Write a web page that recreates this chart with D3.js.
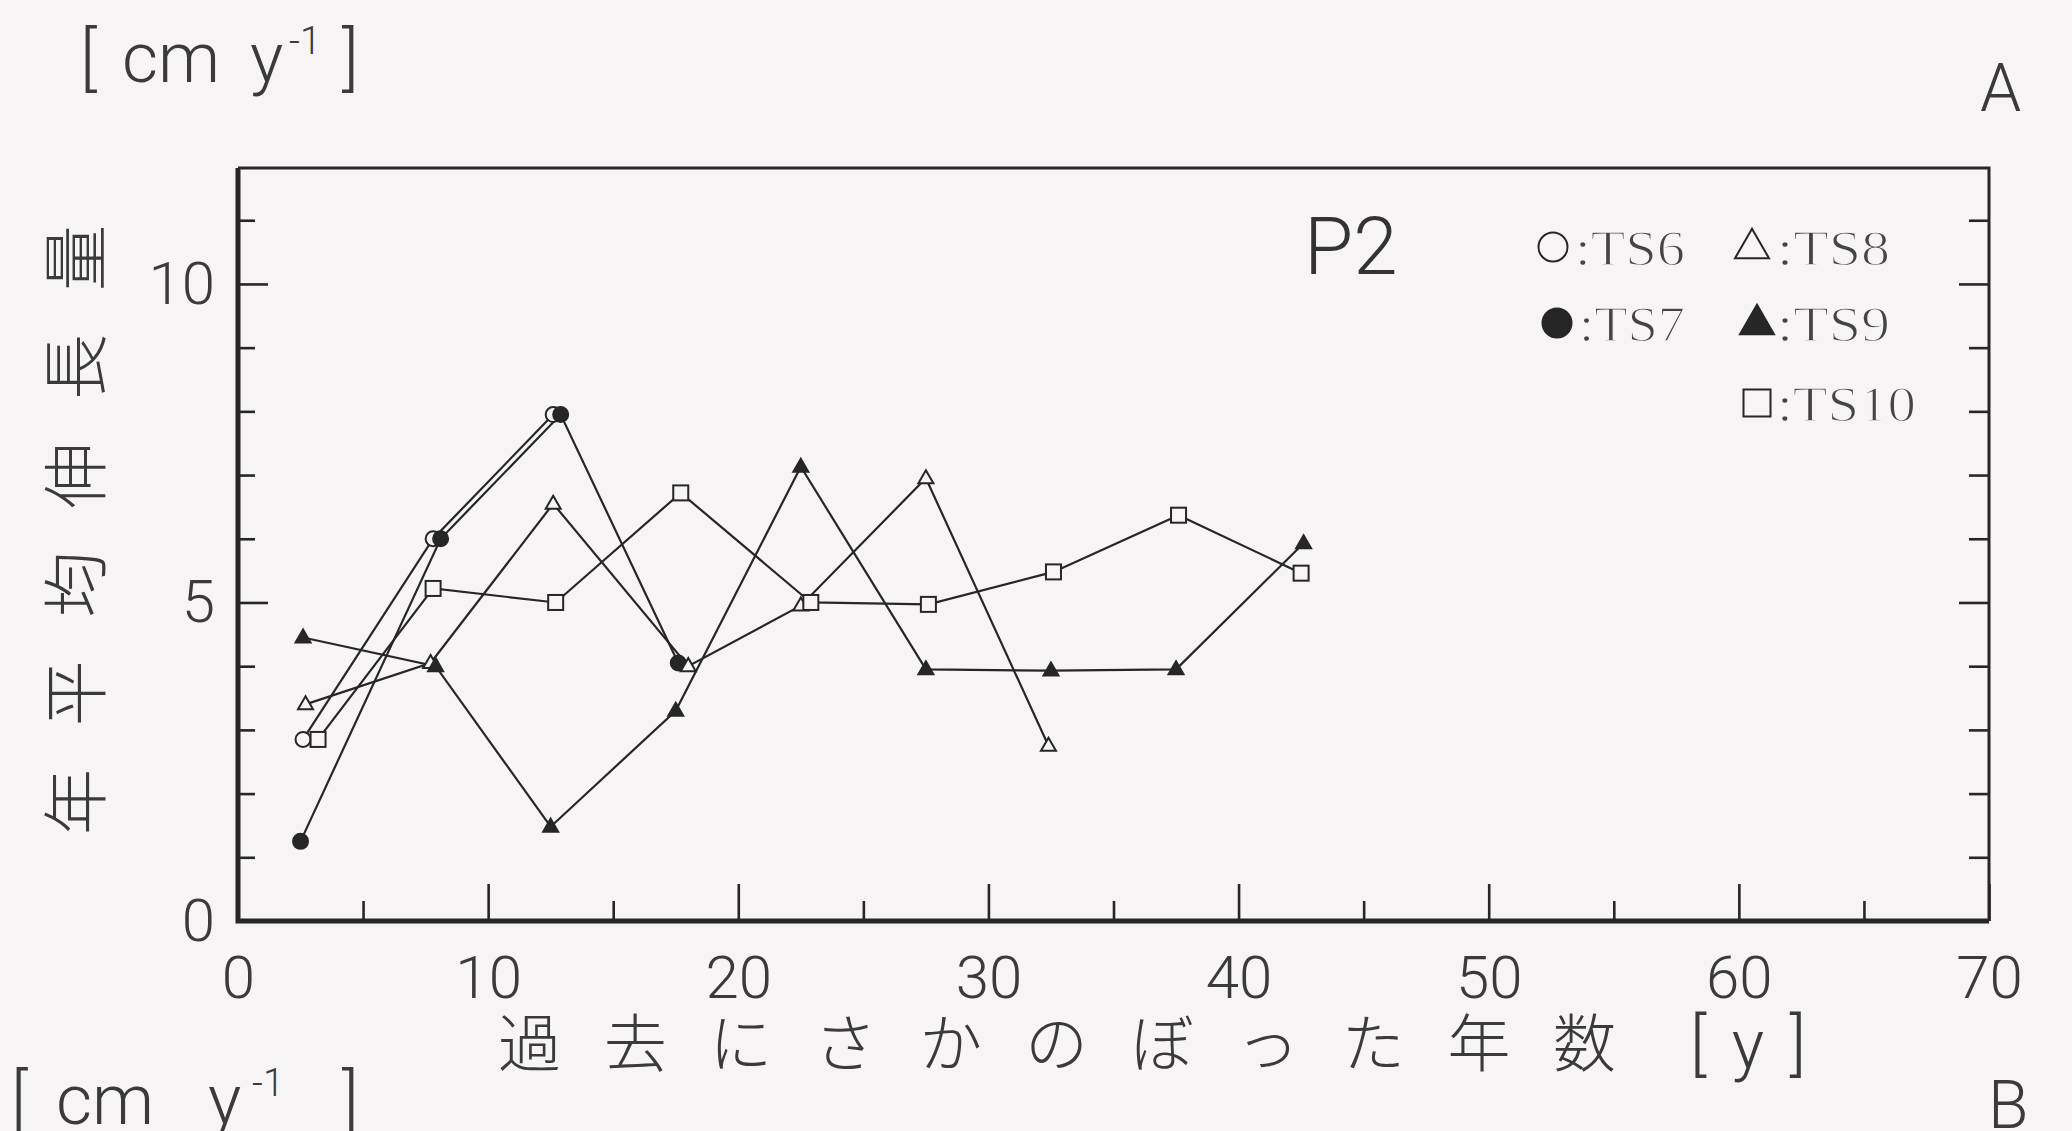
<!DOCTYPE html>
<html>
<head>
<meta charset="utf-8">
<script src="https://cdn.jsdelivr.net/npm/d3@7"></script>
<style>
  html, body { margin: 0; padding: 0; background: #f6f4f5; }
  svg { display: block; }
  .tick text { fill: #3a3a3a; }
</style>
</head>
<body>
<svg id="chart" width="2072" height="1131"></svg>
<script>
// Annual mean elongation per tree, by years counted back (panel P2)
const seriesNames = ["TS6", "TS7", "TS8", "TS9", "TS10"];
const ts6X  = [2.6, 7.8, 12.6];
const ts6Y  = [2.85, 6.0, 7.95];
const ts7X  = [2.5, 8.1, 12.9, 17.6];
const ts7Y  = [1.25, 6.0, 7.95, 4.05];
const ts8X  = [2.7, 7.7, 12.6, 18.0, 22.5, 27.5, 32.4];
const ts8Y  = [3.4, 4.05, 6.55, 4.0, 4.95, 6.95, 2.75];
const ts9X  = [2.6, 7.9, 12.5, 17.5, 22.5, 27.5, 32.5, 37.5, 42.6];
const ts9Y  = [4.45, 4.0, 1.48, 3.3, 7.13, 3.95, 3.93, 3.95, 5.93];
const ts10X = [3.2, 7.8, 12.7, 17.7, 22.9, 27.6, 32.6, 37.6, 42.5];
const ts10Y = [2.85, 5.22, 5.0, 6.72, 5.0, 4.97, 5.48, 6.37, 5.46];

const xMajorTicks = [0, 10, 20, 30, 40, 50, 60, 70];
const xMinorTicks = [5, 15, 25, 35, 45, 55, 65];
const yMajorTicks = [0, 5, 10];
const yMinorTicks = [1, 2, 3, 4, 6, 7, 8, 9, 11];

const ink = "#262626";
const paper = "#f6f4f5";
const textInk = "#3a3a3a";
const svg = d3.select("#chart");

const plotLeft = 238, plotRight = 1989, plotTop = 168, plotBottom = 921;
const x = d3.scaleLinear().domain([0, 70]).range([plotLeft, plotRight]);
const y = d3.scaleLinear().domain([0, 11.82]).range([plotBottom, plotTop]);

const thinFont = "Roboto, 'DejaVu Sans', sans-serif";
const cjkFont = "'Noto Sans CJK JP', sans-serif";

// bottom axis: long ticks with labels at every 10, short ticks at every 5
const xMajor = svg.append("g").attr("transform", `translate(0,${plotBottom})`)
  .call(d3.axisBottom(x).tickValues(xMajorTicks).tickSize(-37).tickPadding(34).tickFormat(d3.format("d")));
const xMinor = svg.append("g").attr("transform", `translate(0,${plotBottom})`)
  .call(d3.axisBottom(x).tickValues(xMinorTicks).tickSize(-20).tickFormat(""));

// left axis
const yMajor = svg.append("g").attr("transform", `translate(${plotLeft},0)`)
  .call(d3.axisLeft(y).tickValues(yMajorTicks).tickSize(-30).tickPadding(23).tickFormat(d3.format("d")));
const yMinor = svg.append("g").attr("transform", `translate(${plotLeft},0)`)
  .call(d3.axisLeft(y).tickValues(yMinorTicks).tickSize(-17).tickFormat(""));

// right axis, ticks only
const rMajor = svg.append("g").attr("transform", `translate(${plotRight},0)`)
  .call(d3.axisRight(y).tickValues(yMajorTicks.filter(v => v > 0)).tickSize(-30).tickFormat(""));
const rMinor = svg.append("g").attr("transform", `translate(${plotRight},0)`)
  .call(d3.axisRight(y).tickValues(yMinorTicks).tickSize(-20).tickFormat(""));

[xMajor, xMinor, yMajor, yMinor, rMajor, rMinor].forEach(g => {
  g.select(".domain").remove();
  g.selectAll(".tick line").attr("stroke", ink).attr("stroke-width", 2.6);
  g.selectAll(".tick text")
    .attr("font-family", thinFont)
    .attr("font-weight", 300)
    .attr("font-size", 60);
});

// frame
svg.append("path")
  .attr("d", `M${plotLeft},${plotTop} L${plotRight},${plotTop} L${plotRight},${plotBottom}`)
  .attr("fill", "none").attr("stroke", ink).attr("stroke-width", 3);
svg.append("path")
  .attr("d", `M${plotLeft},${plotTop} L${plotLeft},${plotBottom} L${plotRight},${plotBottom}`)
  .attr("fill", "none").attr("stroke", ink).attr("stroke-width", 5);

// series
const series = [
  { name: "TS6",  xs: ts6X,  ys: ts6Y,  shape: "circle",   fill: false },
  { name: "TS7",  xs: ts7X,  ys: ts7Y,  shape: "circle",   fill: true },
  { name: "TS8",  xs: ts8X,  ys: ts8Y,  shape: "triangle", fill: false },
  { name: "TS9",  xs: ts9X,  ys: ts9Y,  shape: "triangle", fill: true },
  { name: "TS10", xs: ts10X, ys: ts10Y, shape: "square",   fill: false }
];

const line = d3.line().x(d => x(d[0])).y(d => y(d[1]));

function drawMarker(g, shape, filled, cx, cy, s) {
  const fill = filled ? ink : paper;
  if (shape === "circle") {
    g.append("circle").attr("cx", cx).attr("cy", cy).attr("r", s * 0.5)
      .attr("fill", fill).attr("stroke", ink).attr("stroke-width", 2);
  } else if (shape === "square") {
    g.append("rect").attr("x", cx - s * 0.5).attr("y", cy - s * 0.5)
      .attr("width", s).attr("height", s)
      .attr("fill", fill).attr("stroke", ink).attr("stroke-width", 2);
  } else {
    const h = s * 0.87;
    g.append("path")
      .attr("d", `M${cx},${cy - h * 0.62} L${cx + s * 0.5},${cy + h * 0.38} L${cx - s * 0.5},${cy + h * 0.38} Z`)
      .attr("fill", fill).attr("stroke", ink).attr("stroke-width", 2).attr("stroke-linejoin", "miter");
  }
}

const plot = svg.append("g");
series.forEach(s => {
  const pts = s.xs.map((v, i) => [v, s.ys[i]]);
  plot.append("path").datum(pts).attr("d", line)
    .attr("fill", "none").attr("stroke", ink).attr("stroke-width", 2.2);
});
series.forEach(s => {
  const g = plot.append("g");
  s.xs.forEach((v, i) => drawMarker(g, s.shape, s.fill, x(v), y(s.ys[i]), 15));
});

// panel label
svg.append("text").attr("x", 1304).attr("y", 274)
  .attr("font-family", thinFont).attr("font-weight", 300)
  .attr("font-size", 80).attr("fill", "#333").text("P2");

// legend
const legendItems = [
  { name: "TS6",  shape: "circle",   fill: false, mx: 1553, my: 247, tx: 1575, tw: 110 },
  { name: "TS8",  shape: "triangle", fill: false, mx: 1752, my: 247, tx: 1777, tw: 113 },
  { name: "TS7",  shape: "circle",   fill: true,  mx: 1557, my: 323, tx: 1579, tw: 106 },
  { name: "TS9",  shape: "triangle", fill: true,  mx: 1757, my: 323, tx: 1777, tw: 113 },
  { name: "TS10", shape: "square",   fill: false, mx: 1757, my: 403, tx: 1777, tw: 139 }
];
const lg = svg.append("g");
legendItems.forEach(d => {
  drawMarker(lg, d.shape, d.fill, d.mx, d.my, d.shape === "circle" ? 29 : (d.shape === "triangle" ? 34 : 27));
  lg.append("text").attr("x", d.tx).attr("y", d.my + 18)
    .attr("font-family", "'Liberation Serif', serif").attr("font-size", 50)
    .attr("fill", "#444")
    .attr("stroke", paper).attr("stroke-width", 1.4)
    .attr("textLength", d.tw).attr("lengthAdjust", "spacingAndGlyphs")
    .text(":" + d.name);
});

// axis titles
svg.append("text")
  .attr("transform", "translate(100,530) rotate(-90)")
  .attr("text-anchor", "middle")
  .attr("font-family", cjkFont).attr("font-weight", 300)
  .attr("font-size", 66).attr("fill", textInk)
  .attr("textLength", 610).attr("lengthAdjust", "spacing")
  .text("年平均伸長量");

svg.append("text").attr("x", 498).attr("y", 1066)
  .attr("font-family", cjkFont).attr("font-weight", 300)
  .attr("font-size", 63).attr("fill", textInk)
  .attr("textLength", 1118).attr("lengthAdjust", "spacing")
  .text("過去にさかのぼった年数");
svg.append("text").attr("x", 1690).attr("y", 1068)
  .attr("font-family", thinFont).attr("font-weight", 300)
  .attr("font-size", 68).attr("fill", textInk)
  .attr("textLength", 116).attr("lengthAdjust", "spacing")
  .text("[y]");

// unit labels and panel letters
function unitLabel(pos, baseline) {
  const t = svg.append("text").attr("y", baseline)
    .attr("font-family", thinFont).attr("font-weight", 300)
    .attr("font-size", 70).attr("fill", textInk);
  t.append("tspan").attr("x", pos[0]).text("[");
  t.append("tspan").attr("x", pos[1]).text("cm");
  t.append("tspan").attr("x", pos[2]).text("y");
  t.append("tspan").attr("x", pos[3]).attr("font-size", 38).attr("dy", -28).text("-1");
  t.append("tspan").attr("x", pos[4]).attr("dy", 28).text("]");
}
unitLabel([80, 122, 250, 289, 342], 82);
unitLabel([11, 56, 208, 252, 342], 1124);

svg.append("text").attr("x", 1980).attr("y", 111)
  .attr("font-family", thinFont).attr("font-weight", 300)
  .attr("font-size", 66).attr("fill", textInk).text("A");
svg.append("text").attr("x", 1988).attr("y", 1128)
  .attr("font-family", thinFont).attr("font-weight", 300)
  .attr("font-size", 66).attr("fill", textInk).text("B");
</script>
</body>
</html>
